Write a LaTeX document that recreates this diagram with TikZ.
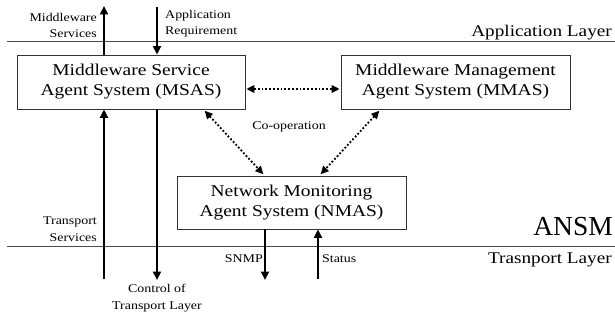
\documentclass[tikz,border=0pt]{standalone}
\usepackage{fontspec}
\setmainfont[FakeStretch=1.18]{Liberation Serif}
\newfontfamily\plainrm{Liberation Serif}
\usetikzlibrary{arrows.meta}
\begin{document}
\begin{tikzpicture}[x=1pt,y=-1pt,
  agent/.style={draw=black!80,line width=0.8pt,inner sep=0pt,font=\fontsize{16.5}{20}\selectfont,align=center},
  layerline/.style={draw=black!70,line width=0.8pt},
  flow/.style={line width=2.2pt,-{Triangle[length=8.5pt,width=8pt]}},
  coop/.style={line width=1.8pt,dotted,{Triangle[length=8pt,width=7.5pt]}-{Triangle[length=8pt,width=7.5pt]},shorten <=1pt,shorten >=1pt},
  small/.style={font=\fontsize{11.8}{16.5}\selectfont,inner sep=0pt,align=right},
  layerlabel/.style={font=\fontsize{16.3}{18}\selectfont,inner sep=0pt,anchor=base east}]
\useasboundingbox (0,0) rectangle (615,320);

% layer boundaries
\coordinate (ta) at (7,41); \coordinate (tb) at (615,41);
\coordinate (ba) at (7,246); \coordinate (bb) at (615,246);
\draw[layerline] (ta) -- (tb);
\draw[layerline] (ba) -- (bb);

% agent systems
\node[agent,minimum width=228pt,minimum height=54pt] (msas) at (131,82) {Middleware Service\\Agent System (MSAS)};
\node[agent,minimum width=229pt,minimum height=54pt] (mmas) at (455.5,82) {Middleware Management\\Agent System (MMAS)};
\node[agent,minimum width=229pt,minimum height=53pt] (nmas) at (291.5,202.5) {Network Monitoring\\Agent System (NMAS)};

% free ends of the vertical flows
\coordinate (msTop) at (104,6);
\coordinate (arTop) at (157,7);
\coordinate (tsBot) at (104,279);
\coordinate (ctBot) at (157,280);
\coordinate (snBot) at (265,280);
\coordinate (stBot) at (318,279);

\draw[flow] (msas.north -| msTop) -- (msTop);
\draw[flow] (arTop) -- (msas.north -| arTop);
\draw[flow] (tsBot) -- (msas.south -| tsBot);
\draw[flow] (msas.south -| ctBot) -- (ctBot);
\draw[flow] (nmas.south -| snBot) -- (snBot);
\draw[flow] (stBot) -- (nmas.south -| stBot);

% co-operation links
\coordinate (m1) at (204,110); \coordinate (n1) at (264,175);
\coordinate (m2) at (380,110); \coordinate (n2) at (320,175);
\draw[coop] (msas.east |- 0,89) -- (mmas.west |- 0,89);
\draw[coop] (m1) -- (n1);
\draw[coop] (m2) -- (n2);
\node[small,anchor=base] (coopl) at (289,130) {Co-operation};

% labels (base anchor sits on the last line)
\node[small,anchor=base east] (mslbl) at (97,38) {Middleware\\Services};
\node[small,anchor=base west,align=left] (arlbl) at (165,35) {Application\\Requirement};
\node[small,anchor=base east] (tslbl) at (97,241) {Transport\\Services};
\node[small,anchor=base,align=center] (ctlbl) at (157,309) {Control of\\Transport Layer};
\node[small,anchor=base east] (snlbl) at (263,262) {SNMP};
\node[small,anchor=base west] (stlbl) at (322,262) {Status};

\node[layerlabel] (al) at (612,37) {Application Layer};
\node[layerlabel] (tl) at (612,263) {Trasnport Layer};
\node[font=\plainrm\fontsize{27.5}{30}\selectfont,inner sep=0pt,anchor=base east] (ansm) at (613,236) {ANSM};
\end{tikzpicture}
\end{document}
